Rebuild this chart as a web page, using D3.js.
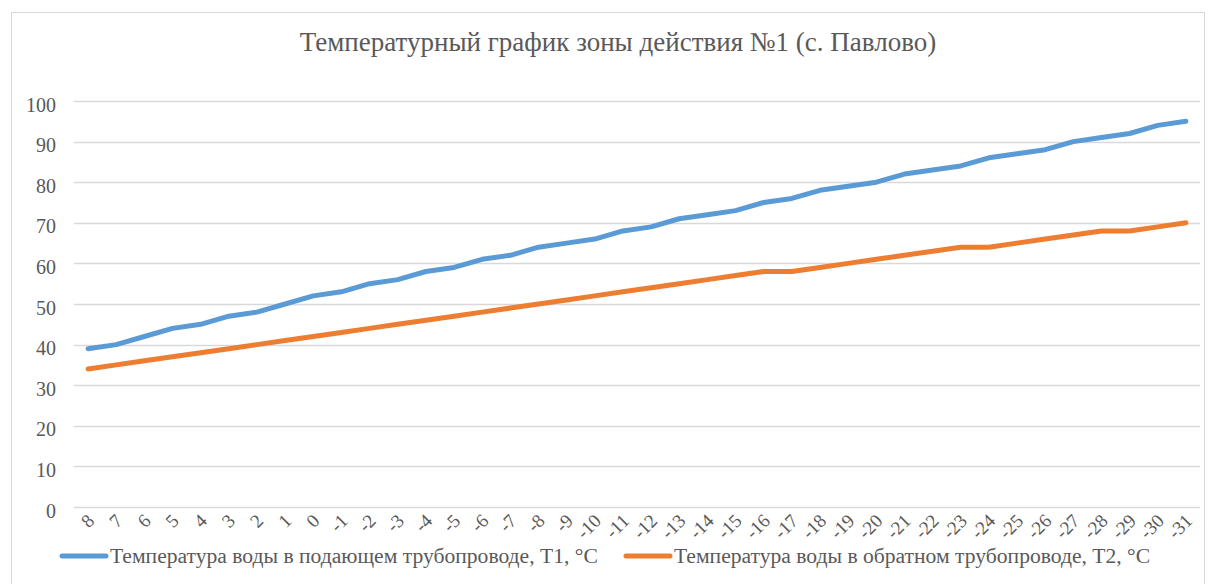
<!DOCTYPE html>
<html>
<head>
<meta charset="utf-8">
<script src="https://cdn.jsdelivr.net/npm/d3@7"></script>
<style>
  html, body { margin: 0; padding: 0; background: #fff; }
  svg { display: block; }
  text { font-family: "Liberation Serif", "Times New Roman", serif; fill: #595959; }
</style>
</head>
<body>
<svg id="chart" width="1214" height="584"></svg>
<script>
const title = 'Температурный график зоны действия №1 (с. Павлово)'
const categories = ['8', '7', '6', '5', '4', '3', '2', '1', '0', '-1', '-2', '-3', '-4', '-5', '-6', '-7', '-8', '-9', '-10',
  '-11', '-12', '-13', '-14', '-15', '-16', '-17', '-18', '-19', '-20', '-21', '-22', '-23', '-24', '-25', '-26', '-27',
  '-28', '-29', '-30', '-31']
const supplyT1 = [39, 40, 42, 44, 45, 47, 48, 50, 52, 53, 55, 56, 58, 59, 61, 62, 64, 65, 66, 68,
  69, 71, 72, 73, 75, 76, 78, 79, 80, 82, 83, 84, 86, 87, 88, 90, 91, 92, 94, 95]
const returnT2 = [34, 35, 36, 37, 38, 39, 40, 41, 42, 43, 44, 45, 46, 47, 48, 49, 50, 51, 52, 53,
  54, 55, 56, 57, 58, 58, 59, 60, 61, 62, 63, 64, 64, 65, 66, 67, 68, 68, 69, 70]
const yTicks = [0, 10, 20, 30, 40, 50, 60, 70, 80, 90, 100]
const seriesNames = ['Температура воды в подающем трубопроводе, Т1, °С', 'Температура воды в обратном трубопроводе, Т2, °С']
const colors = ['#5B9BD5', '#ED7D31']

const svg = d3.select('#chart')
const plot = { left: 74, right: 1200, top: 101, bottom: 507 }

// chart frame
svg.append('rect')
  .attr('x', 11.5).attr('y', 12.5)
  .attr('width', 1193).attr('height', 590)
  .attr('fill', '#fff')
  .attr('stroke', '#D9D9D9')

svg.append('text')
  .attr('x', 618).attr('y', 51)
  .attr('text-anchor', 'middle')
  .style('font-size', '27px')
  .text(title)

let x = d3.scalePoint()
  .domain(categories)
  .range([plot.left, plot.right])
  .padding(0.5)
let y = d3.scaleLinear()
  .domain([0, 100])
  .range([plot.bottom, plot.top])

// gridlines
svg.append('g')
  .selectAll('line')
  .data(yTicks)
  .join('line')
  .attr('x1', plot.left).attr('x2', plot.right)
  .attr('y1', d => Math.round(y(d)) + 0.5)
  .attr('y2', d => Math.round(y(d)) + 0.5)
  .attr('stroke', '#D9D9D9')
  .attr('stroke-width', 1.3)

// y axis labels
let yAxis = svg.append('g')
  .attr('transform', `translate(${plot.left}, 0)`)
  .call(d3.axisLeft(y).tickValues(yTicks).tickSize(0).tickPadding(18))
yAxis.select('.domain').remove()
yAxis.selectAll('text')
  .style('font-size', '20px')
  .style('font-family', '"Liberation Serif", serif')
  .attr('fill', '#595959')
  .attr('dy', '0.5em')

// x axis labels
let xAxis = svg.append('g')
  .attr('transform', `translate(0, ${plot.bottom})`)
  .call(d3.axisBottom(x).tickSize(0).tickPadding(0))
xAxis.select('.domain').remove()
xAxis.selectAll('text')
  .style('font-size', '19px')
  .style('font-family', '"Liberation Serif", serif')
  .attr('fill', '#595959')
  .attr('text-anchor', 'end')
  .attr('dy', null)
  .attr('y', 0)
  .attr('transform', 'translate(7, 15) rotate(-45)')

// lines
let line = d3.line()
  .x((d, i) => x(categories[i]))
  .y(d => y(d))
;[supplyT1, returnT2].forEach((values, i) => {
  svg.append('path')
    .datum(values)
    .attr('d', line)
    .attr('fill', 'none')
    .attr('stroke', colors[i])
    .attr('stroke-width', 5)
    .attr('stroke-linejoin', 'round')
    .attr('stroke-linecap', 'round')
})

// legend
let legendX = [60, 624]
let legend = svg.append('g')
  .selectAll('g')
  .data(seriesNames)
  .join('g')
  .attr('transform', (d, i) => `translate(${legendX[i]}, 556)`)
legend.append('line')
  .attr('x1', 2).attr('x2', 46)
  .attr('stroke', (d, i) => colors[i])
  .attr('stroke-width', 5)
  .attr('stroke-linecap', 'round')
legend.append('text')
  .attr('x', 50).attr('y', 7)
  .style('font-size', '21.6px')
  .text(d => d)
</script>
</body>
</html>
